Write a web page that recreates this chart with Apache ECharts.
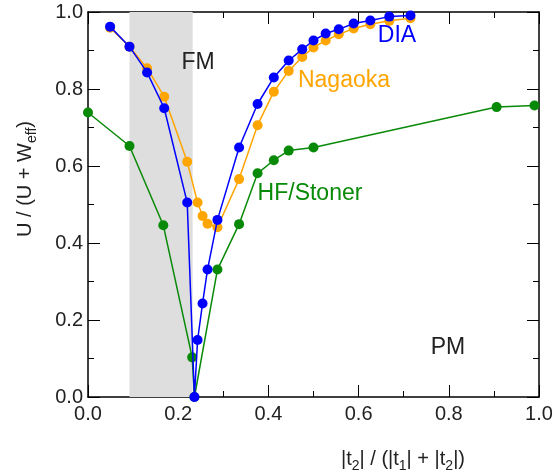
<!DOCTYPE html>
<html>
<head>
<meta charset="utf-8">
<script src="https://cdn.jsdelivr.net/npm/echarts@6/dist/echarts.min.js"></script>
<style>
  html, body { margin: 0; padding: 0; background: #fff; }
  #chart { width: 556px; height: 472px; }
</style>
</head>
<body>
<div id="chart"></div>
<script>
// ---- data ----
const diaX = [0.049, 0.092, 0.131, 0.169, 0.220, 0.236, 0.243, 0.254, 0.265, 0.287, 0.335, 0.376, 0.412, 0.445, 0.475, 0.500, 0.527, 0.556, 0.589, 0.626, 0.668, 0.715];
const diaY = [0.962, 0.910, 0.843, 0.750, 0.505, 0.000, 0.148, 0.243, 0.331, 0.460, 0.648, 0.761, 0.830, 0.874, 0.903, 0.926, 0.944, 0.955, 0.970, 0.978, 0.988, 0.991];

const nagX = [0.049, 0.092, 0.131, 0.169, 0.220, 0.243, 0.254, 0.265, 0.287, 0.335, 0.376, 0.412, 0.445, 0.475, 0.500, 0.527, 0.556, 0.589, 0.626, 0.668, 0.715];
const nagY = [0.959, 0.910, 0.854, 0.780, 0.611, 0.505, 0.470, 0.450, 0.441, 0.566, 0.706, 0.793, 0.847, 0.883, 0.908, 0.926, 0.942, 0.957, 0.968, 0.977, 0.984];

const hfX = [0.000, 0.092, 0.167, 0.231, 0.236, 0.287, 0.335, 0.376, 0.412, 0.445, 0.500, 0.906, 0.990];
const hfY = [0.739, 0.652, 0.446, 0.103, 0.000, 0.331, 0.449, 0.581, 0.615, 0.640, 0.648, 0.753, 0.757];

const fmBand = [0.092, 0.232];   // shaded FM region in x
const xTicks = [0, 0.2, 0.4, 0.6, 0.8, 1.0];
const yTicks = [0, 0.2, 0.4, 0.6, 0.8, 1.0];

const zip = (xs, ys) => xs.map((x, i) => [x, ys[i]]);

const FONT = '"Liberation Sans", Arial, Helvetica, sans-serif';
const TXT = '#222';

function mkAxis(pos, showLabel, ticks, margin) {
  return {
    type: 'value', position: pos, min: ticks[0], max: ticks[ticks.length - 1],
    interval: 0.2,
    axisLine: { show: true, onZero: false, lineStyle: { color: '#000', width: 1.5 } },
    axisTick: { show: true, inside: true, length: 12, lineStyle: { color: '#000', width: 1 } },
    minorTick: { show: true, splitNumber: 2, length: 6, lineStyle: { color: '#000', width: 1 } },
    splitLine: { show: false },
    minorSplitLine: { show: false },
    axisLabel: {
      show: showLabel, fontFamily: FONT, fontSize: 20, color: TXT, margin: margin,
      formatter: v => v.toFixed(1), showMinLabel: true, showMaxLabel: true
    }
  };
}

function lineSeries(name, xs, ys, color, z) {
  return {
    name, type: 'line', data: zip(xs, ys), z,
    symbol: 'circle', symbolSize: 10, showAllSymbol: true,
    lineStyle: { color, width: 1.5 },
    itemStyle: { color, borderWidth: 0 },
    emphasis: { disabled: true }, animation: false, clip: false
  };
}

const chart = echarts.init(document.getElementById('chart'), null, { renderer: 'canvas' });
chart.setOption({
  animation: false,
  backgroundColor: '#fff',
  grid: { left: 88, right: 17, top: 12, bottom: 75, containLabel: false },
  xAxis: [mkAxis('bottom', true, xTicks, 7), mkAxis('top', false, xTicks, 7)],
  yAxis: [mkAxis('left', true, yTicks, 5), mkAxis('right', false, yTicks, 5)],
  series: [
    {
      type: 'line', data: [], z: 1, silent: true,
      markArea: {
        silent: true,
        itemStyle: { color: '#dedede' },
        data: [[{ xAxis: fmBand[0], yAxis: 0 }, { xAxis: fmBand[1], yAxis: 1 }]]
      }
    },
    lineSeries('HF/Stoner', hfX, hfY, '#088a08', 3),
    lineSeries('Nagaoka', nagX, nagY, '#ffa500', 4),
    lineSeries('DIA', diaX, diaY, '#0000ff', 5)
  ],
  graphic: [
    { type: 'text', x: 198, y: 63, z: 10, style: { text: 'FM', font: '23px ' + FONT, fill: TXT, textAlign: 'center', textVerticalAlign: 'middle' } },
    { type: 'text', x: 448, y: 348, z: 10, style: { text: 'PM', font: '23px ' + FONT, fill: TXT, textAlign: 'center', textVerticalAlign: 'middle' } },
    { type: 'text', x: 397, y: 36, z: 10, style: { text: 'DIA', font: '23px ' + FONT, fill: '#0000ff', textAlign: 'center', textVerticalAlign: 'middle' } },
    { type: 'text', x: 344, y: 81, z: 10, style: { text: 'Nagaoka', font: '23px ' + FONT, fill: '#ffa500', textAlign: 'center', textVerticalAlign: 'middle' } },
    { type: 'text', x: 310, y: 194, z: 10, style: { text: 'HF/Stoner', font: '23px ' + FONT, fill: '#088a08', textAlign: 'center', textVerticalAlign: 'middle' } },
    {
      type: 'text', x: 403, y: 459, z: 10,
      style: {
        text: '|t{s|2}| / (|t{s|1}| + |t{s|2}|)',
        fontFamily: FONT, fontSize: 20, fill: TXT, lineHeight: 26,
        align: 'center', verticalAlign: 'middle',
        rich: { s: { fontFamily: FONT, fontSize: 14, fill: TXT, lineHeight: 14, padding: [13, 0, 0, 0], verticalAlign: 'top' } }
      }
    },
    {
      type: 'text', x: 25, y: 179, rotation: Math.PI / 2, z: 10,
      style: {
        text: 'U / (U + W{s|eff})',
        fontFamily: FONT, fontSize: 20, fill: TXT, lineHeight: 26,
        align: 'center', verticalAlign: 'middle',
        rich: { s: { fontFamily: FONT, fontSize: 14, fill: TXT, lineHeight: 14, padding: [13, 0, 0, 0], verticalAlign: 'top' } }
      }
    }
  ]
});
</script>
</body>
</html>
